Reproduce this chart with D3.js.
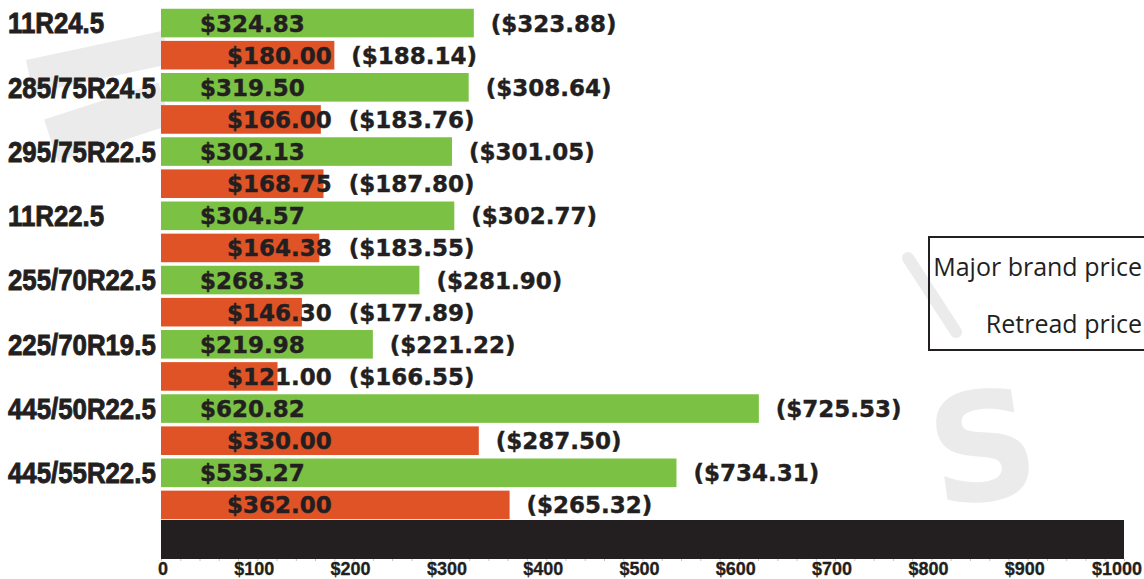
<!DOCTYPE html>
<html>
<head>
<meta charset="utf-8">
<script src="https://cdn.jsdelivr.net/npm/d3@7/dist/d3.min.js"></script>
<style>
  html, body { margin: 0; padding: 0; background: #fff; }
  svg { display: block; }
</style>
</head>
<body>
<svg id="chart" width="1144" height="579"></svg>
<script>
// ---- data ----
const categories = ["11R24.5", "285/75R24.5", "295/75R22.5", "11R22.5", "255/70R22.5", "225/70R19.5", "445/50R22.5", "445/55R22.5"];
const majorBrandPrice = [324.83, 319.50, 302.13, 304.57, 268.33, 219.98, 620.82, 535.27];
const majorBrandOther = [323.88, 308.64, 301.05, 302.77, 281.90, 221.22, 725.53, 734.31];
const retreadPrice = [180.00, 166.00, 168.75, 164.38, 146.30, 121.00, 330.00, 362.00];
const retreadOther = [188.14, 183.76, 187.80, 183.55, 177.89, 166.55, 287.50, 265.32];
const tickValues = [0, 100, 200, 300, 400, 500, 600, 700, 800, 900, 1000];
const tickLabels = ["0", "$100", "$200", "$300", "$400", "$500", "$600", "$700", "$800", "$900", "$1000"];
const legendLabels = ["Major brand price", "Retread price"];

// ---- styles ----
const GREEN = "#7bc143", ORANGE = "#e05326", INK = "#231f20", WM = "#ebebeb";
const valueFont = "'DejaVu Sans', sans-serif";
const labelFont = "'Liberation Sans', Arial, sans-serif";
const legendFont = "'Open Sans', 'Noto Sans', sans-serif";

const svg = d3.select("#chart");

// rows: for each category a major-brand row and a retread row
const rows = [];
categories.forEach((c, i) => {
  rows.push({ key: c + "|m", cat: c, type: "m", value: majorBrandPrice[i], other: majorBrandOther[i] });
  rows.push({ key: c + "|r", cat: c, type: "r", value: retreadPrice[i], other: retreadOther[i] });
});

const x = d3.scaleLinear().domain([0, 1000]).range([161, 1124]);
const y = d3.scaleBand().domain(rows.map(d => d.key)).range([7, 521]).paddingInner(0.11).paddingOuter(0.055);

// ---- watermark (faint logo) ----
const wm = svg.append("g").attr("fill", WM);
wm.append("rect").attr("x", 28).attr("y", 45).attr("width", 140).attr("height", 34)
  .attr("transform", "rotate(-12 98 62)");
wm.append("rect").attr("x", 48).attr("y", 100).attr("width", 120).attr("height", 44)
  .attr("transform", "rotate(-18 108 122)");
wm.append("line").attr("x1", 908).attr("y1", 258).attr("x2", 956).attr("y2", 332)
  .attr("stroke", WM).attr("stroke-width", 12).attr("stroke-linecap", "round");
wm.append("text").attr("x", 982).attr("y", 500).attr("text-anchor", "middle")
  .attr("font-family", "'DejaVu Sans', sans-serif").attr("font-weight", "bold")
  .attr("font-size", 150).attr("transform", "rotate(-8 982 440)").text("S");

// ---- bars ----
svg.append("g").selectAll("rect").data(rows).join("rect")
  .attr("x", x(0))
  .attr("y", d => y(d.key))
  .attr("width", d => x(d.value) - x(0))
  .attr("height", y.bandwidth())
  .attr("fill", d => d.type === "m" ? GREEN : ORANGE);

// ---- inner value labels ----
const inner = svg.append("g").selectAll("text").data(rows).join("text")
  .attr("x", d => d.type === "m" ? 200 : 227)
  .attr("y", d => y(d.key) + y.bandwidth() / 2 + 8.5)
  .attr("font-family", valueFont).attr("font-weight", "bold").attr("font-size", 23)
  .attr("fill", INK).attr("stroke", INK).attr("stroke-width", 0.4)
  .text(d => "$" + d3.format(".2f")(d.value));

// ---- parenthetical labels ----
const innerEnds = [];
inner.each(function(d, i) { innerEnds[i] = +d3.select(this).attr("x") + this.getComputedTextLength(); });
svg.append("g").selectAll("text").data(rows).join("text")
  .attr("x", (d, i) => Math.max(x(d.value), innerEnds[i]) + 17)
  .attr("y", d => y(d.key) + y.bandwidth() / 2 + 8.5)
  .attr("font-family", valueFont).attr("font-weight", "bold").attr("font-size", 23)
  .attr("fill", INK).attr("stroke", INK).attr("stroke-width", 0.4)
  .text(d => "($" + d3.format(".2f")(d.other) + ")");

// ---- category labels (condensed heavy) ----
const sx = 0.89;
svg.append("g").attr("transform", `scale(${sx},1)`)
  .selectAll("text").data(categories).join("text")
  .attr("x", 8 / sx)
  .attr("y", c => y(c + "|m") + y.bandwidth() / 2 + 10.3)
  .attr("font-family", labelFont).attr("font-weight", "bold").attr("font-size", 29)
  .attr("fill", INK).attr("stroke", INK).attr("stroke-width", 0.9)
  .text(c => c);

// ---- axis: black base bar, minor ticks, labels ----
svg.append("rect").attr("x", x(0)).attr("y", 520).attr("width", x(1000) - x(0)).attr("height", 39).attr("fill", INK);
const axis = d3.axisBottom(x).tickValues(d3.range(0, 1001, 20)).tickSize(2).tickFormat("");
const ag = svg.append("g").attr("transform", "translate(0,559)").call(axis);
ag.select(".domain").remove();
ag.selectAll(".tick line").attr("stroke", "#c4c4c4");
svg.append("g").selectAll("text").data(tickValues).join("text")
  .attr("x", (v, i) => x(v) + (i === tickValues.length - 1 ? -7 : (i === 0 ? 2 : -3)))
  .attr("y", 574.5)
  .attr("text-anchor", "middle")
  .attr("font-family", labelFont).attr("font-weight", "bold").attr("font-size", 18)
  .attr("fill", INK).attr("stroke", INK).attr("stroke-width", 0.3)
  .text((v, i) => tickLabels[i]);

// ---- legend ----
const lg = svg.append("g");
lg.append("rect").attr("x", 929).attr("y", 237).attr("width", 240).attr("height", 113)
  .attr("fill", "none").attr("stroke", INK).attr("stroke-width", 2);
lg.selectAll("text").data(legendLabels).join("text")
  .attr("x", 1142).attr("y", (d, i) => 276 + i * 57)
  .attr("text-anchor", "end")
  .attr("font-family", legendFont).attr("font-size", 25)
  .attr("fill", INK)
  .text(d => d);
</script>
</body>
</html>
